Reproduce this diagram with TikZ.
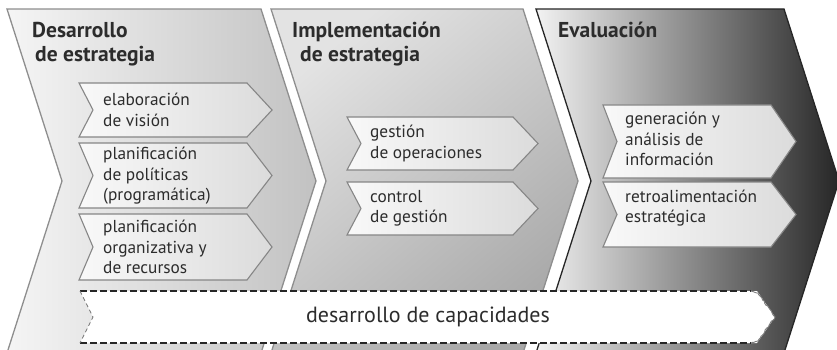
\documentclass[tikz,border=0pt]{standalone}
\usepackage{fontspec}
\setmainfont{PT Sans}
\usetikzlibrary{decorations.pathmorphing}
\definecolor{txt}{HTML}{2C2C2C}
\definecolor{edgegray}{HTML}{8E8E8E}
\definecolor{subline}{HTML}{868686}
\definecolor{darkline}{HTML}{262626}
\newcommand\subchev[4]{%
  \draw[subbox] (#1,#3) -- (#2,#3) -- ({#2+25},{(#3+#4)/2}) -- (#2,#4) -- (#1,#4) -- ({#1+14},{(#3+#4)/2}) -- cycle;}
\begin{document}
\begin{tikzpicture}[x=1pt,y=-1pt,
  bigchev/.style={draw=edgegray,line width=1.3pt,line join=miter},
  subbox/.style={draw=subline,line width=1.1pt,left color=white!95!gray,right color=black!14,line join=miter},
  subtext/.style={anchor=west,align=left,inner sep=0pt,text=txt,font=\fontsize{17.3}{20.5}\selectfont},
  titletext/.style={anchor=base west,inner sep=0pt,text=txt,font=\bfseries\fontsize{21.5}{23}\selectfont},
  dashline/.style={draw=darkline,line width=1.3pt,dash pattern=on 6.5pt off 3.5pt}]
\useasboundingbox (0,0) rectangle (837,350);
% big chevrons
\shade[left color=white!96!black, right color=black!24, bigchev]
  (7,9) -- (261,9) -- (316,181) -- (261,353) -- (7,353) -- (62,181) -- cycle;
\shade[left color=black!11, right color=black!34, shading angle=40, bigchev]
  (271,9) -- (523,9) -- (578,181) -- (523,353) -- (271,353) -- (326,181) -- cycle;
\shade[left color=white!95!black, right color=black!85, bigchev, draw=darkline]
  (536,9) -- (784,9) -- (839,181) -- (784,353) -- (536,353) -- (591,181) -- cycle;
% sub chevrons
\subchev{79}{247}{83}{137}
\subchev{79}{247}{143}{208}
\subchev{79}{247}{214}{280}
\subchev{347}{513}{117}{170}
\subchev{347}{513}{182}{235}
\subchev{603}{771}{105}{178}
\subchev{603}{771}{182}{247}
% banner
\fill[white] (80,291) -- (757,291) -- (775,317) -- (757,343) -- (80,343) -- (93,317) -- cycle;
\draw[dashline] (80,291) -- (751,291);
\draw[dashline] (80,343) -- (751,343);
\draw[draw=black!55,line width=0.8pt,dash pattern=on 4pt off 3pt] (80,291) -- (93,317) -- (80,343);
\draw[draw=black!50,line width=0.9pt,decorate,decoration={random steps,segment length=2pt,amplitude=0.6pt}]
  (751,291) -- (758,293) -- (775,317) -- (758,341) -- (751,343);
% titles
\node[titletext] (t1a) at (32,38) {Desarrollo};
\node[titletext] (t1b) at (35,62) {de estrategia};
\node[titletext] (t2a) at (292,38) {Implementación};
\node[titletext] (t2b) at (300,62) {de estrategia};
\node[titletext] (t3a) at (558,38) {Evaluación};
% sub texts
\node[subtext] (s1) at (103,110) {elaboración\\de visión};
\node[subtext] (s2) at (103,176) {planificación\\de políticas\\(programática)};
\node[subtext] (s3) at (103,247) {planificación\\organizativa y\\de recursos};
\node[subtext] (s4) at (370,143.5) {gestión\\de operaciones};
\node[subtext] (s5) at (370,208.5) {control\\de gestión};
\node[subtext] (s6) at (625,139) {generación y\\análisis de\\información};
\node[subtext] (s7) at (625,208) {retroalimentación\\estratégica};
% banner text
\node[inner sep=0pt,text=txt,font=\fontsize{22}{24}\selectfont] (cap) at (428,317) {desarrollo de capacidades};
\end{tikzpicture}
\end{document}
